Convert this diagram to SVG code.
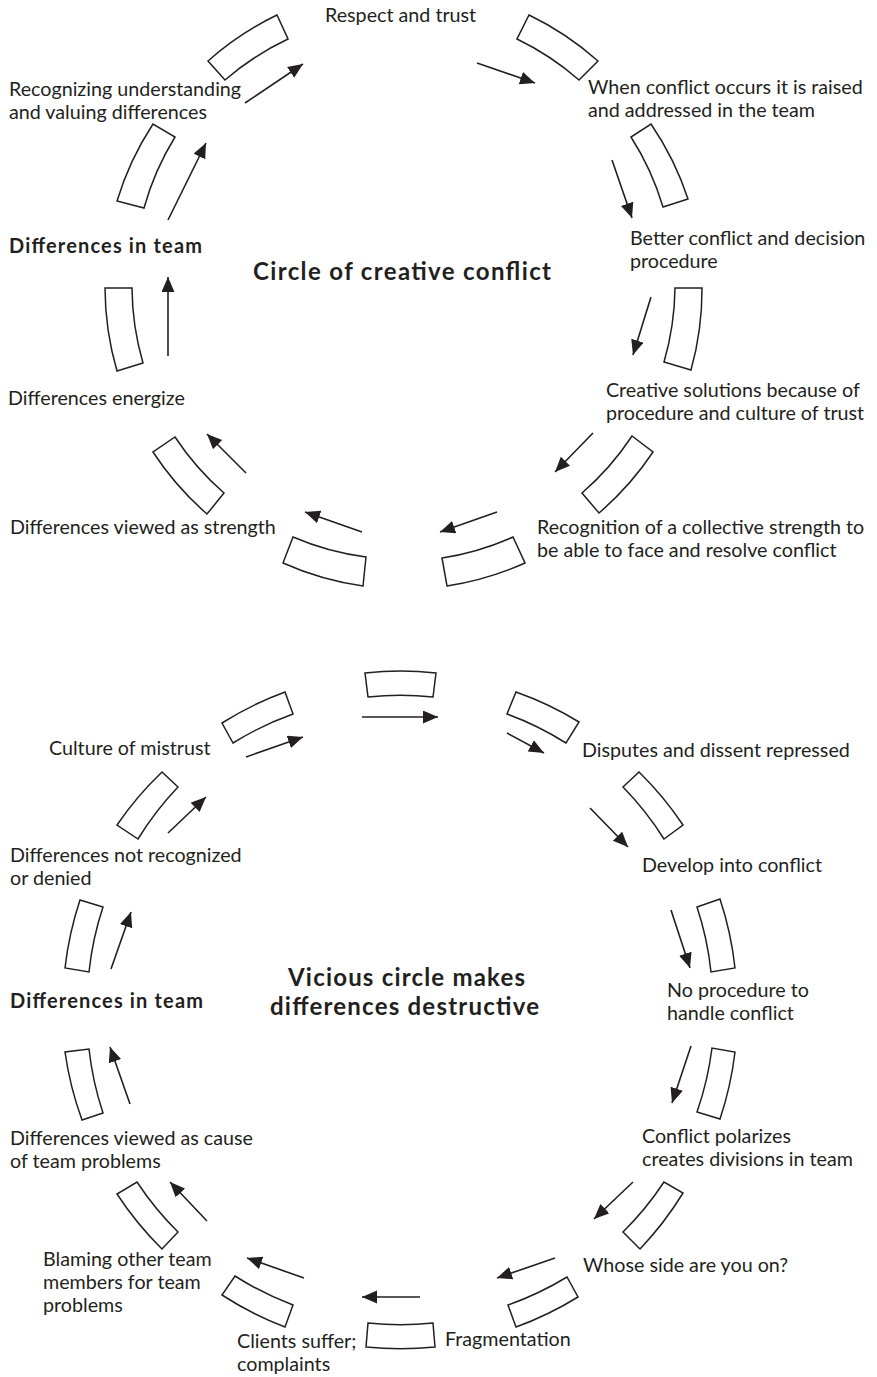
<svg xmlns="http://www.w3.org/2000/svg" width="877" height="1377" viewBox="0 0 877 1377">
<style>
.bx{fill:#fff;stroke:#231f20;stroke-width:1.5;stroke-linejoin:miter}
.t{font-family:"Lato","Liberation Sans",sans-serif;font-size:19.7px;fill:#231f20}
.b{font-family:"Lato","Liberation Sans",sans-serif;font-size:20px;font-weight:bold;fill:#231f20}
.h{font-family:"Lato","Liberation Sans",sans-serif;font-size:24px;font-weight:bold;fill:#231f20}
.ar{stroke:#231f20;stroke-width:1.6;fill:none;marker-end:url(#ah)}
</style>
<defs>
<marker id="ah" markerUnits="userSpaceOnUse" markerWidth="16" markerHeight="14" refX="15" refY="6.5" orient="auto">
<path d="M0,0 L15,6.5 L0,13 Z" fill="#231f20"/>
</marker>
</defs>
<rect width="877" height="1377" fill="#fff"/>

<!-- Top circle -->
<g id="title-creative"><text class="h" x="253" y="280" textLength="298">Circle of creative conflict</text></g>
<g id="n-respect"><text class="t" x="325" y="22">Respect and trust</text></g>
<g id="n-recognizing"><text class="t" x="9" y="96">Recognizing understanding</text><text class="t" x="9" y="119">and valuing differences</text></g>
<g id="n-when"><text class="t" x="588" y="94">When conflict occurs it is raised</text><text class="t" x="588" y="117">and addressed in the team</text></g>
<g id="n-diff-top"><text class="b" x="9" y="253" textLength="193">Differences in team</text></g>
<g id="n-better"><text class="t" x="630" y="245">Better conflict and decision</text><text class="t" x="630" y="268">procedure</text></g>
<g id="n-energize"><text class="t" x="8" y="405">Differences energize</text></g>
<g id="n-creative"><text class="t" x="606" y="397">Creative solutions because of</text><text class="t" x="606" y="420">procedure and culture of trust</text></g>
<g id="n-strength"><text class="t" x="10" y="534">Differences viewed as strength</text></g>
<g id="n-recognition"><text class="t" x="537" y="534">Recognition of a collective strength to</text><text class="t" x="537" y="557">be able to face and resolve conflict</text></g>

<g id="boxes-top">
<path id="bt1" class="bx" d="M208,61 A300,300 0 0 1 277,15 L288,39 A275,275 0 0 0 225,80 Z"/>
<path id="bt2" class="bx" d="M529,15 A300,300 0 0 1 598,61 L579,80 A275,275 0 0 0 517,39 Z"/>
<path id="bt3" class="bx" d="M117,201 A300,300 0 0 1 153,124 L175,137 A275,275 0 0 0 144,208 Z"/>
<path id="bt4" class="bx" d="M651,124 A300,300 0 0 1 688,199 L663,207 A275,275 0 0 0 631,137 Z"/>
<path id="bt5" class="bx" d="M117,371 A300,300 0 0 1 105,288 L132,288 A275,275 0 0 0 143,363 Z"/>
<path id="bt6" class="bx" d="M702,288 A300,300 0 0 1 691,370 L664,362 A275,275 0 0 0 675,288 Z"/>
<path id="bt7" class="bx" d="M207,514 A300,300 0 0 1 153,452 L175,437 A275,275 0 0 0 224,493 Z"/>
<path id="bt8" class="bx" d="M653,452 A300,300 0 0 1 599,513 L582,493 A275,275 0 0 0 632,436 Z"/>
<path id="bt9" class="bx" d="M363,586 A300,300 0 0 1 283,563 L293,537 A275,275 0 0 0 366,557 Z"/>
<path id="bt10" class="bx" d="M525,563 A300,300 0 0 1 447,586 L442,558 A275,275 0 0 0 513,537 Z"/>
</g>

<!-- Bottom circle -->
<g id="title-vicious"><text class="h" x="288" y="986" textLength="237">Vicious circle makes</text><text class="h" x="270" y="1015" textLength="269">differences destructive</text></g>
<g id="n-mistrust"><text class="t" x="49" y="755">Culture of mistrust</text></g>
<g id="n-disputes"><text class="t" x="582" y="757">Disputes and dissent repressed</text></g>
<g id="n-notrecog"><text class="t" x="10" y="862">Differences not recognized</text><text class="t" x="10" y="885">or denied</text></g>
<g id="n-develop"><text class="t" x="642" y="872">Develop into conflict</text></g>
<g id="n-diff-bottom"><text class="b" x="10" y="1008" textLength="193">Differences in team</text></g>
<g id="n-noproc"><text class="t" x="667" y="997">No procedure to</text><text class="t" x="667" y="1020">handle conflict</text></g>
<g id="n-cause"><text class="t" x="10" y="1145">Differences viewed as cause</text><text class="t" x="10" y="1168">of team problems</text></g>
<g id="n-polarizes"><text class="t" x="642" y="1143">Conflict polarizes</text><text class="t" x="642" y="1166">creates divisions in team</text></g>
<g id="n-blaming"><text class="t" x="43" y="1266">Blaming other team</text><text class="t" x="43" y="1289">members for team</text><text class="t" x="43" y="1312">problems</text></g>
<g id="n-whose"><text class="t" x="583" y="1272">Whose side are you on?</text></g>
<g id="n-fragment"><text class="t" x="445" y="1346">Fragmentation</text></g>
<g id="n-clients"><text class="t" x="237" y="1348">Clients suffer;</text><text class="t" x="237" y="1371">complaints</text></g>

<g id="boxes-bottom">
<path id="bb1" class="bx" d="M365,673 A335,335 0 0 1 436,673 L433,697 A310,310 0 0 0 368,697 Z"/>
<path id="bb2" class="bx" d="M222,723 A335,335 0 0 1 285,692 L293,714 A310,310 0 0 0 233,743 Z"/>
<path id="bb3" class="bx" d="M516,692 A335,335 0 0 1 579,722 L566,743 A310,310 0 0 0 507,714 Z"/>
<path id="bb4" class="bx" d="M117,825 A335,335 0 0 1 162,772 L178,787 A310,310 0 0 0 138,839 Z"/>
<path id="bb5" class="bx" d="M639,772 A335,335 0 0 1 683,825 L664,839 A310,310 0 0 0 623,787 Z"/>
<path id="bb6" class="bx" d="M65,968 A335,335 0 0 1 80,900 L103,907 A310,310 0 0 0 89,972 Z"/>
<path id="bb7" class="bx" d="M720,899 A335,335 0 0 1 735,968 L711,972 A310,310 0 0 0 697,907 Z"/>
<path id="bb8" class="bx" d="M82,1120 A335,335 0 0 1 65,1052 L89,1049 A310,310 0 0 0 103,1113 Z"/>
<path id="bb9" class="bx" d="M735,1052 A335,335 0 0 1 720,1119 L697,1112 A310,310 0 0 0 712,1048 Z"/>
<path id="bb10" class="bx" d="M162,1249 A335,335 0 0 1 117,1194 L137,1182 A310,310 0 0 0 178,1232 Z"/>
<path id="bb11" class="bx" d="M683,1193 A335,335 0 0 1 640,1249 L623,1232 A310,310 0 0 0 664,1182 Z"/>
<path id="bb12" class="bx" d="M285,1327 A335,335 0 0 1 222,1295 L235,1276 A310,310 0 0 0 293,1305 Z"/>
<path id="bb13" class="bx" d="M578,1297 A335,335 0 0 1 516,1327 L508,1305 A310,310 0 0 0 567,1277 Z"/>
<path id="bb14" class="bx" d="M435,1347 A335,335 0 0 1 366,1347 L368,1323 A310,310 0 0 0 433,1323 Z"/>
</g>

<g id="connectors">
<line class="ar" x1="245" y1="103" x2="303" y2="64"/>
<line class="ar" x1="477" y1="63" x2="535" y2="83"/>
<line class="ar" x1="168" y1="220" x2="206" y2="143"/>
<line class="ar" x1="612" y1="160" x2="632" y2="218"/>
<line class="ar" x1="168" y1="356" x2="168" y2="277"/>
<line class="ar" x1="651" y1="297" x2="633" y2="355"/>
<line class="ar" x1="246" y1="473" x2="207" y2="434"/>
<line class="ar" x1="593" y1="433" x2="555" y2="472"/>
<line class="ar" x1="362" y1="532" x2="305" y2="512"/>
<line class="ar" x1="497" y1="512" x2="440" y2="532"/>

<line class="ar" x1="362" y1="717" x2="438" y2="717"/>
<line class="ar" x1="246" y1="757" x2="303" y2="737"/>
<line class="ar" x1="507" y1="733" x2="544" y2="753"/>
<line class="ar" x1="168" y1="833" x2="206" y2="797"/>
<line class="ar" x1="590" y1="808" x2="628" y2="847"/>
<line class="ar" x1="111" y1="969" x2="131" y2="912"/>
<line class="ar" x1="671" y1="910" x2="690" y2="968"/>
<line class="ar" x1="130" y1="1104" x2="110" y2="1047"/>
<line class="ar" x1="691" y1="1046" x2="672" y2="1103"/>
<line class="ar" x1="207" y1="1221" x2="170" y2="1182"/>
<line class="ar" x1="633" y1="1182" x2="594" y2="1219"/>
<line class="ar" x1="304" y1="1278" x2="247" y2="1258"/>
<line class="ar" x1="555" y1="1258" x2="497" y2="1278"/>
<line class="ar" x1="420" y1="1297" x2="362" y2="1297"/>
</g>
</svg>
